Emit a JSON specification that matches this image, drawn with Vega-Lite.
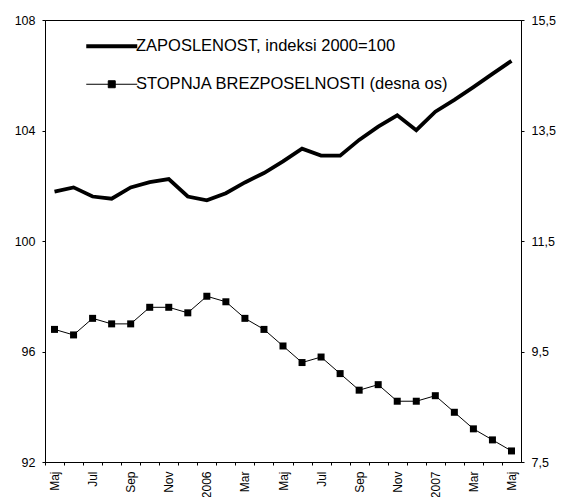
{
  "$schema": "https://vega.github.io/schema/vega-lite/v6.json",
  "autosize": {"type": "none"},
  "width": 476,
  "height": 442,
  "padding": {"left": 45, "top": 20, "right": 43, "bottom": 35},
  "background": "white",
  "config": {
    "view": {"stroke": "black", "strokeWidth": 1},
    "font": "Liberation Sans",
    "axis": {
      "grid": false,
      "domainColor": "black",
      "tickColor": "black",
      "labelColor": "black",
      "labelFont": "Liberation Sans",
      "labelFontSize": 12.5,
      "tickSize": 3,
      "labelPadding": 7,
      "title": null
    }
  },
  "data": {
    "values": [
      {"mesec": "Maj 2005", "zap": 101.79, "stop": 9.9},
      {"mesec": "Jun 2005", "zap": 101.94, "stop": 9.8},
      {"mesec": "Jul 2005", "zap": 101.61, "stop": 10.1},
      {"mesec": "Avg 2005", "zap": 101.53, "stop": 10.0},
      {"mesec": "Sep 2005", "zap": 101.94, "stop": 10.0},
      {"mesec": "Okt 2005", "zap": 102.13, "stop": 10.3},
      {"mesec": "Nov 2005", "zap": 102.24, "stop": 10.3},
      {"mesec": "Dec 2005", "zap": 101.61, "stop": 10.2},
      {"mesec": "Jan 2006", "zap": 101.47, "stop": 10.5},
      {"mesec": "Feb 2006", "zap": 101.73, "stop": 10.4},
      {"mesec": "Mar 2006", "zap": 102.12, "stop": 10.1},
      {"mesec": "Apr 2006", "zap": 102.46, "stop": 9.9},
      {"mesec": "Maj 2006", "zap": 102.88, "stop": 9.6},
      {"mesec": "Jun 2006", "zap": 103.34, "stop": 9.3},
      {"mesec": "Jul 2006", "zap": 103.09, "stop": 9.4},
      {"mesec": "Avg 2006", "zap": 103.09, "stop": 9.1},
      {"mesec": "Sep 2006", "zap": 103.66, "stop": 8.8},
      {"mesec": "Okt 2006", "zap": 104.14, "stop": 8.9},
      {"mesec": "Nov 2006", "zap": 104.55, "stop": 8.6},
      {"mesec": "Dec 2006", "zap": 104.01, "stop": 8.6},
      {"mesec": "Jan 2007", "zap": 104.68, "stop": 8.7},
      {"mesec": "Feb 2007", "zap": 105.11, "stop": 8.4},
      {"mesec": "Mar 2007", "zap": 105.57, "stop": 8.1},
      {"mesec": "Apr 2007", "zap": 106.05, "stop": 7.9},
      {"mesec": "Maj 2007", "zap": 106.52, "stop": 7.7}
    ]
  },
  "layer": [
    {
      "mark": {"type": "line", "strokeWidth": 3.8, "color": "black"},
      "encoding": {
        "x": {
          "field": "mesec",
          "type": "ordinal",
          "sort": null,
          "scale": {"type": "point", "padding": 0.5},
          "axis": {
            "labelAngle": -90,
            "labelOverlap": false,
            "labelFontSize": 12,
            "labelPadding": 6,
            "tickOffset": -9.52,
            "labelOffset": 9.52,
            "labelExpr": "slice(datum.value,0,3)=='Jan' ? slice(datum.value,4) : (indexof(['Mar','Maj','Jul','Sep','Nov'], slice(datum.value,0,3)) >= 0 ? slice(datum.value,0,3) : '')",
            "encode": {"ticks": {"update": {"y": {"value": -3}}}}
          }
        },
        "y": {
          "field": "zap",
          "type": "quantitative",
          "scale": {"domain": [92, 108], "nice": false, "zero": false},
          "axis": {
            "orient": "left",
            "values": [92, 96, 100, 104, 108],
            "encode": {"ticks": {"update": {"x": {"value": 3}}}}
          }
        },
        "color": {
          "datum": "ZAPOSLENOST, indeksi 2000=100",
          "scale": {
            "domain": ["ZAPOSLENOST, indeksi 2000=100", "STOPNJA BREZPOSELNOSTI (desna os)"],
            "range": ["black", "black"]
          },
          "legend": {
            "title": null,
            "orient": "none",
            "legendX": 58.5,
            "legendY": 18,
            "padding": 0,
            "symbolSize": 2601,
            "rowPadding": 21,
            "labelOffset": 16,
            "labelFont": "Liberation Sans",
            "labelFontSize": 16.5,
            "labelColor": "black",
            "labelLimit": 500,
            "encode": {
              "symbols": {
                "update": {
                  "shape": {"signal": "datum.value === 'STOPNJA BREZPOSELNOSTI (desna os)' ? 'M-1,0H1M-0.137,-0.137H0.137V0.137H-0.137Z' : 'M-1,0H1'"},
                  "strokeWidth": {"signal": "datum.value === 'STOPNJA BREZPOSELNOSTI (desna os)' ? 1 : 3.8"},
                  "stroke": {"value": "black"},
                  "fill": {"value": "black"},
                  "fillOpacity": {"value": 1},
                  "strokeOpacity": {"value": 1}
                }
              }
            }
          }
        }
      }
    },
    {
      "mark": {"type": "line", "strokeWidth": 1, "color": "black"},
      "encoding": {
        "x": {"field": "mesec", "type": "ordinal", "sort": null},
        "y": {
          "field": "stop",
          "type": "quantitative",
          "scale": {"domain": [7.5, 15.5], "nice": false, "zero": false},
          "axis": {
            "orient": "right",
            "values": [7.5, 9.5, 11.5, 13.5, 15.5],
            "labelExpr": "replace(format(datum.value, '.1f'), '.', ',')",
            "encode": {"ticks": {"update": {"x": {"value": -3}}}}
          }
        },
        "color": {"datum": "STOPNJA BREZPOSELNOSTI (desna os)"}
      }
    },
    {
      "mark": {"type": "point", "shape": "square", "filled": true, "size": 49, "color": "black", "opacity": 1},
      "encoding": {
        "x": {"field": "mesec", "type": "ordinal", "sort": null},
        "y": {
          "field": "stop",
          "type": "quantitative",
          "scale": {"domain": [7.5, 15.5], "nice": false, "zero": false},
          "axis": null
        }
      }
    }
  ],
  "resolve": {"scale": {"y": "independent"}}
}
